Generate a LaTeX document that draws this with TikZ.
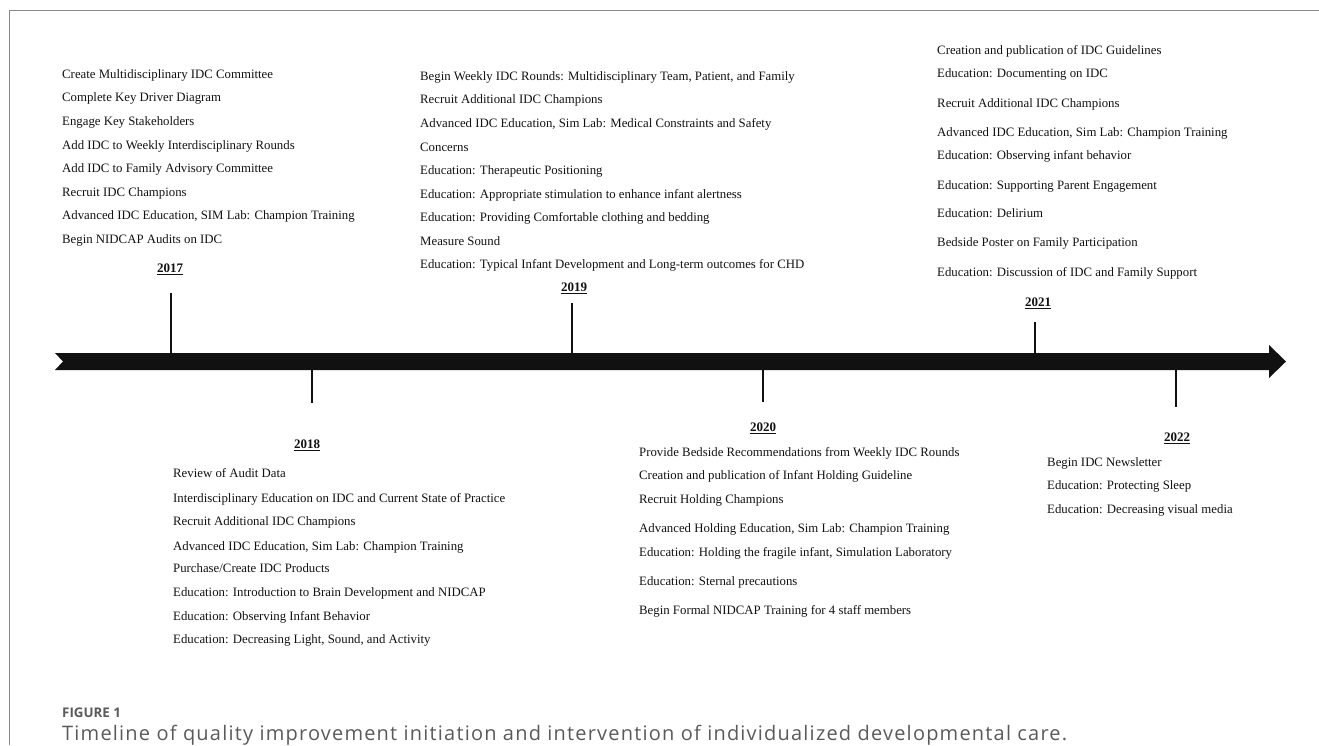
\documentclass[tikz,border=0pt]{standalone}
\usepackage{fontspec}
\setmainfont{Liberation Serif}
\newfontfamily\capfont{Open Sans}
\newfontfamily\capfontwide[LetterSpace=6]{Open Sans}
\definecolor{ink}{HTML}{111111}
\definecolor{framegray}{HTML}{8A8A8A}
\definecolor{capgray}{HTML}{5A5A5A}
\begin{document}
\begin{tikzpicture}[x=1pt,y=-1pt,
  item/.style={anchor=base west, inner sep=0pt, text=ink, font=\fontsize{12.8}{14}\selectfont},
  yr/.style={anchor=base, inner sep=0pt, text=ink, font=\fontsize{13}{14}\selectfont\bfseries},
  tickline/.style={line width=2pt, draw=ink},
  capfig/.style={anchor=base west, inner sep=0pt, text=capgray, font=\capfont\bfseries\fontsize{13.3}{15}\selectfont},
  captext/.style={anchor=base west, inner sep=0pt, text=capgray, font=\capfontwide\fontsize{20}{22}\selectfont}]
\useasboundingbox (0,0) rectangle (1319,745);
% frame
\draw[framegray, line width=1.3pt] (9.5,745) -- (9.5,10.5) -- (1319,10.5);
% timeline arrow
\fill[ink] (55,353) -- (1269,353) -- (1269,345) -- (1286,361.5) -- (1269,378) -- (1269,370) -- (55,370) -- (63,361.5) -- cycle;
% ticks
\coordinate (k17a) at (171,293); \coordinate (k17b) at (171,353);
\coordinate (k18a) at (312,370); \coordinate (k18b) at (312,403);
\coordinate (k19a) at (572,303); \coordinate (k19b) at (572,353);
\coordinate (k20a) at (763,370); \coordinate (k20b) at (763,402);
\coordinate (k21a) at (1035,322); \coordinate (k21b) at (1035,353);
\coordinate (k22a) at (1176,370); \coordinate (k22b) at (1176,407);
\draw[tickline] (k17a) -- (k17b);
\draw[tickline] (k18a) -- (k18b);
\draw[tickline] (k19a) -- (k19b);
\draw[tickline] (k20a) -- (k20b);
\draw[tickline] (k21a) -- (k21b);
\draw[tickline] (k22a) -- (k22b);
% years
\node[yr] (y17) at (170,272.5) {\underline{2017}};
\node[yr] (y18) at (307,448.5) {\underline{2018}};
\node[yr] (y19) at (574,291.5) {\underline{2019}};
\node[yr] (y20) at (763,431.5) {\underline{2020}};
\node[yr] (y21) at (1038,306.5) {\underline{2021}};
\node[yr] (y22) at (1177,441.5) {\underline{2022}};
% 2017
\node[item] (a1) at (62,78.5) {Create Multidisciplinary IDC Committee};
\node[item] (a2) at (62,101.5) {Complete Key Driver Diagram};
\node[item] (a3) at (62,125.5) {Engage Key Stakeholders};
\node[item] (a4) at (62,149.5) {Add IDC to Weekly Interdisciplinary Rounds};
\node[item] (a5) at (62,172.5) {Add IDC to Family Advisory Committee};
\node[item] (a6) at (62,196.5) {Recruit IDC Champions};
\node[item] (a7) at (62,219.5) {Advanced IDC Education, SIM Lab: Champion Training};
\node[item] (a8) at (62,243.5) {Begin NIDCAP Audits on IDC};
% 2018
\node[item] (b1) at (173,477.5) {Review of Audit Data};
\node[item] (b2) at (173,502.5) {Interdisciplinary Education on IDC and Current State of Practice};
\node[item] (b3) at (173,525.5) {Recruit Additional IDC Champions};
\node[item] (b4) at (173,550.5) {Advanced IDC Education, Sim Lab: Champion Training};
\node[item] (b5) at (173,572.5) {Purchase/Create IDC Products};
\node[item] (b6) at (173,596.5) {Education: Introduction to Brain Development and NIDCAP};
\node[item] (b7) at (173,620.5) {Education: Observing Infant Behavior};
\node[item] (b8) at (173,643.5) {Education: Decreasing Light, Sound, and Activity};
% 2019
\node[item] (c1) at (420,80.5) {Begin Weekly IDC Rounds: Multidisciplinary Team, Patient, and Family};
\node[item] (c2) at (420,103.5) {Recruit Additional IDC Champions};
\node[item] (c3) at (420,127.5) {Advanced IDC Education, Sim Lab: Medical Constraints and Safety};
\node[item] (c4) at (420,151.5) {Concerns};
\node[item] (c5) at (420,174.5) {Education: Therapeutic Positioning};
\node[item] (c6) at (420,198.5) {Education: Appropriate stimulation to enhance infant alertness};
\node[item] (c7) at (420,221.5) {Education: Providing Comfortable clothing and bedding};
\node[item] (c8) at (420,245.5) {Measure Sound};
\node[item] (c9) at (420,268.5) {Education: Typical Infant Development and Long-term outcomes for CHD};
% 2020
\node[item] (d1) at (639,456.5) {Provide Bedside Recommendations from Weekly IDC Rounds};
\node[item] (d2) at (639,479.5) {Creation and publication of Infant Holding Guideline};
\node[item] (d3) at (639,503.5) {Recruit Holding Champions};
\node[item] (d4) at (639,532.5) {Advanced Holding Education, Sim Lab: Champion Training};
\node[item] (d5) at (639,556.5) {Education: Holding the fragile infant, Simulation Laboratory};
\node[item] (d6) at (639,585.5) {Education: Sternal precautions};
\node[item] (d7) at (639,614.5) {Begin Formal NIDCAP Training for 4 staff members};
% 2021
\node[item] (e1) at (937,54.5) {Creation and publication of IDC Guidelines};
\node[item] (e2) at (937,77.5) {Education: Documenting on IDC};
\node[item] (e3) at (937,107.5) {Recruit Additional IDC Champions};
\node[item] (e4) at (937,136.5) {Advanced IDC Education, Sim Lab: Champion Training};
\node[item] (e5) at (937,159.5) {Education: Observing infant behavior};
\node[item] (e6) at (937,189.5) {Education: Supporting Parent Engagement};
\node[item] (e7) at (937,217.5) {Education: Delirium};
\node[item] (e8) at (937,246.5) {Bedside Poster on Family Participation};
\node[item] (e9) at (937,276.5) {Education: Discussion of IDC and Family Support};
% 2022
\node[item] (f1) at (1047,466.5) {Begin IDC Newsletter};
\node[item] (f2) at (1047,489.5) {Education: Protecting Sleep};
\node[item] (f3) at (1047,513.5) {Education: Decreasing visual media};
% caption
\node[capfig] (cap1) at (62,717) {FIGURE 1};
\node[captext] (cap2) at (62,740) {Timeline of quality improvement initiation and intervention of individualized developmental care.};
\end{tikzpicture}
\end{document}
